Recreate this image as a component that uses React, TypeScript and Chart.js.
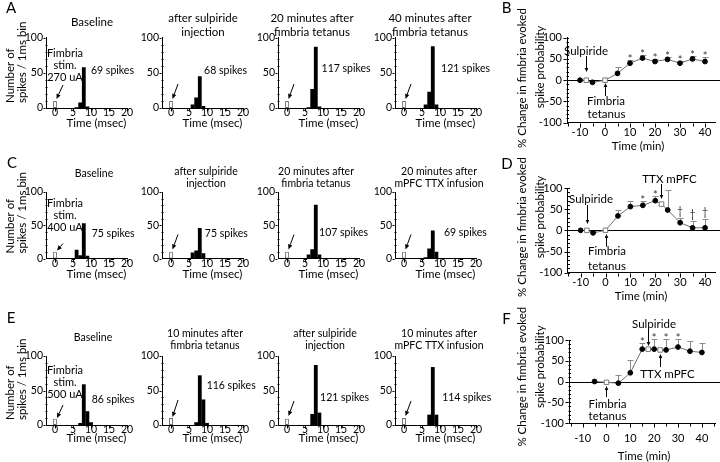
import React, { useEffect, useRef } from "react";
import { Chart, registerables } from "chart.js";

Chart.register(...registerables);

// ---------------- data: spike histograms ----------------
const histTimeTicks = [0, 5, 10, 15, 20];
const histCountTicks = [0, 50, 100];
const stimTime = 0;

const stimCountsA = [10, 10, 10, 10];
const stimCountsC = [10, 10, 10, 10];
const stimCountsE = [9, 10, 9, 10];

const spikeBinsA = [6, 7, 8, 9];
const countsA1 = [1, 8, 58, 2];
const countsA2 = [5, 15, 45, 3];
const countsA3 = [1, 27, 87, 2];
const countsA4 = [5, 23, 88, 5];

const spikeBinsC = [6, 7, 8, 9];
const countsC1 = [13, 5, 53, 4];
const countsC2 = [9, 12, 46, 8];
const countsC3 = [6, 14, 81, 6];
const countsC4 = [2, 15, 42, 10];

const spikeBinsE12 = [7, 8, 9, 10];
const countsE1 = [3, 59, 20, 4];
const countsE2 = [4, 72, 37, 3];
const spikeBinsE34 = [7, 8, 9];
const countsE3 = [16, 87, 18];
const countsE4 = [15, 84, 15];

const titlesA = [["Baseline"], ["after sulpiride", "injection"], ["20 minutes after", "fimbria tetanus"], ["40 minutes after", "fimbria tetanus"]];
const titlesC = [["Baseline"], ["after sulpiride", "injection"], ["20 minutes after", "fimbria tetanus"], ["20 minutes after", "mPFC TTX infusion"]];
const titlesE = [["Baseline"], ["10 minutes after", "fimbria tetanus"], ["after sulpiride", "injection"], ["10 minutes after", "mPFC TTX infusion"]];
const spikeLabelsA = ["69 spikes", "68 spikes", "117 spikes", "121 spikes"];
const spikeLabelsC = ["75 spikes", "75 spikes", "107 spikes", "69 spikes"];
const spikeLabelsE = ["86 spikes", "116 spikes", "121 spikes", "114 spikes"];
const stimTextA = ["Fimbria", "stim.", "270 uA"];
const stimTextC = ["Fimbria", "stim.", "400 uA"];
const stimTextE = ["Fimbria", "stim.", "500 uA"];

// ---------------- data: % change time courses ----------------
const minTicks = [-10, 0, 10, 20, 30, 40];
const pctTicks = [-100, -50, 0, 50, 100];

const timeB = [-10, -7.5, -5, 0, 5, 10, 15, 20, 25, 30, 35, 40];
const changeB = [0, 0, -5, 0, 16, 40, 52, 44, 49, 40, 50, 44];
const semB = [0, 0, 0, 0, 15, 8, 8, 6, 5, 6, 6, 10];
const openB = [false, true, false, true, false, false, false, false, false, false, false, false];
const sigB = ["", "", "", "", "", "*", "*", "*", "*", "*", "*", "*"];

const timeD = [-10, -7.5, -5, 0, 5, 10, 15, 20, 22.5, 25, 30, 35, 40];
const changeD = [0, 0, -6, 0, 34, 56, 59, 70, 62, 48, 18, 6, 6];
const semD = [0, 0, 4, 0, 13, 14, 10, 10, 0, 47, 12, 16, 20];
const openD = [false, true, false, true, false, false, false, false, true, false, false, false, false];
const sigD = ["", "", "", "", "", "", "*", "*", "", "", "\u2020", "\u2020", "\u2020"];

const timeF = [-5, 0, 5, 10, 15, 17.5, 20, 22.5, 25, 30, 35, 40];
const changeF = [0, -2, -4, 21, 78, 78, 78, 76, 76, 83, 73, 70];
const semF = [0, 0, 19, 31, 14, 0, 24, 0, 27, 20, 24, 22];
const openF = [false, true, false, false, false, true, false, true, false, false, false, false];
const sigF = ["", "", "", "", "*", "", "*", "", "*", "*", "", ""];

// ---------------- layout ----------------
const PAGE_W = 720;
const PAGE_H = 462;
const FONT = "Lato, 'Open Sans', 'DejaVu Sans', sans-serif";
const Y_AXIS_W = 30;
const X_AXIS_H = 24;
const histX0 = [55, 171, 287, 404];

type HistRow = { zeroY: number; topY: number; titleSize: number; title1: number[]; title2: number[]; titleXs: number[]; xTitleY: number };
const rowA: HistRow = { zeroY: 108, topY: 37.7, titleSize: 11.5, title1: [22.7], title2: [18.3, 32.3], titleXs: [92, 203, 312, 430], xTitleY: 123 };
const rowC: HistRow = { zeroY: 258.5, topY: 192, titleSize: 10.5, title1: [174], title2: [172, 184], titleXs: [94, 206, 316, 439], xTitleY: 274 };
const rowE: HistRow = { zeroY: 425, topY: 356, titleSize: 10.5, title1: [338], title2: [334, 346], titleXs: [93, 205, 325, 439], xTitleY: 438.5 };

type HistSpec = {
  row: HistRow; col: number; bins: number[]; counts: number[]; stim: number; title: string[];
  spikeText: string; spikePos: [number, number]; stimText?: string[]; arrow: number[]; letter?: [string, number, number];
};

const plainArrow = [7, 24, 1.5, 9];
const histSpecs: HistSpec[] = [
  { row: rowA, col: 0, bins: spikeBinsA, counts: countsA1, stim: stimCountsA[0], title: titlesA[0], spikeText: spikeLabelsA[0], spikePos: [10.0, 53], stimText: stimTextA, arrow: [8, 23, 1.5, 9], letter: ["A", 11, 8] },
  { row: rowA, col: 1, bins: spikeBinsA, counts: countsA2, stim: stimCountsA[1], title: titlesA[1], spikeText: spikeLabelsA[1], spikePos: [9.2, 53], arrow: plainArrow },
  { row: rowA, col: 2, bins: spikeBinsA, counts: countsA3, stim: stimCountsA[2], title: titlesA[2], spikeText: spikeLabelsA[2], spikePos: [9.6, 55.5], arrow: plainArrow },
  { row: rowA, col: 3, bins: spikeBinsA, counts: countsA4, stim: stimCountsA[3], title: titlesA[3], spikeText: spikeLabelsA[3], spikePos: [10.3, 55.5], arrow: plainArrow },
  { row: rowC, col: 0, bins: spikeBinsC, counts: countsC1, stim: stimCountsC[0], title: titlesC[0], spikeText: spikeLabelsC[0], spikePos: [10.2, 38], stimText: stimTextC, arrow: [8, 15, 2, 8], letter: ["C", 12, 163] },
  { row: rowC, col: 1, bins: spikeBinsC, counts: countsC2, stim: stimCountsC[1], title: titlesC[1], spikeText: spikeLabelsC[1], spikePos: [9.4, 38], arrow: plainArrow },
  { row: rowC, col: 2, bins: spikeBinsC, counts: countsC3, stim: stimCountsC[2], title: titlesC[2], spikeText: spikeLabelsC[2], spikePos: [8.9, 39], arrow: plainArrow },
  { row: rowC, col: 3, bins: spikeBinsC, counts: countsC4, stim: stimCountsC[3], title: titlesC[3], spikeText: spikeLabelsC[3], spikePos: [11.1, 39], arrow: plainArrow },
  { row: rowE, col: 0, bins: spikeBinsE12, counts: countsE1, stim: stimCountsE[0], title: titlesE[0], spikeText: spikeLabelsE[0], spikePos: [10.2, 37], stimText: stimTextE, arrow: [8, 20, 2, 7], letter: ["E", 11, 318] },
  { row: rowE, col: 1, bins: spikeBinsE12, counts: countsE2, stim: stimCountsE[1], title: titlesE[1], spikeText: spikeLabelsE[1], spikePos: [9.9, 56.5], arrow: [7, 25, 1.5, 8] },
  { row: rowE, col: 2, bins: spikeBinsE34, counts: countsE3, stim: stimCountsE[2], title: titlesE[2], spikeText: spikeLabelsE[2], spikePos: [9.2, 40], arrow: plainArrow },
  { row: rowE, col: 3, bins: spikeBinsE34, counts: countsE4, stim: stimCountsE[3], title: titlesE[3], spikeText: spikeLabelsE[3], spikePos: [10.6, 40], arrow: plainArrow },
];

type Txt = [string, number, number];
type Arw = { t: number; y1: number; y2: number };
type LineSpec = {
  times: number[]; vals: number[]; errs: number[]; open: boolean[]; sig: string[];
  left: number; right: number; top: number; bottom: number; xMin: number; xMax: number;
  tickPad: number; xTitle: [number, number]; yLab1: [number, number]; yLab2: [number, number];
  texts: Txt[]; arrows: Arw[]; letter: [string, number, number];
};

const lineSpecs: LineSpec[] = [
  {
    times: timeB, vals: changeB, errs: semB, open: openB, sig: sigB,
    left: 567, right: 715, top: 37.7, bottom: 122.7, xMin: -15.2, xMax: 44, tickPad: 4.5,
    xTitle: [638, 146.7], yLab1: [522, 78], yLab2: [540, 67],
    texts: [["Sulpiride", 586, 51.7], ["Fimbria", 606, 101.7], ["tetanus", 606.5, 114]],
    arrows: [{ t: -7.5, y1: 56, y2: 72 }, { t: 0, y1: 96, y2: 83 }],
    letter: ["B", 506.5, 8],
  },
  {
    times: timeD, vals: changeD, errs: semD, open: openD, sig: sigD,
    left: 567.5, right: 716, top: 188, bottom: 272.7, xMin: -15.27, xMax: 44, tickPad: 4.5,
    xTitle: [641, 296.7], yLab1: [522, 227], yLab2: [540, 217],
    texts: [["Sulpiride", 591, 199.3], ["Fimbria", 607, 251.7], ["tetanus", 607, 266], ["TTX mPFC", 669.5, 179.3]],
    arrows: [{ t: -7.5, y1: 205, y2: 224 }, { t: 0, y1: 246.7, y2: 234 }, { t: 22.5, y1: 184, y2: 199 }],
    letter: ["D", 507, 164],
  },
  {
    times: timeF, vals: changeF, errs: semF, open: openF, sig: sigF,
    left: 569, right: 719.6, top: 340, bottom: 423, xMin: -15.7, xMax: 45.5, tickPad: 9.5,
    xTitle: [644, 456], yLab1: [522, 376.7], yLab2: [540, 366.7],
    texts: [["Sulpiride", 654, 324], ["TTX mPFC", 667.5, 374], ["Fimbria", 607.5, 404], ["tetanus", 607.5, 416.7]],
    arrows: [{ t: 17.5, y1: 329, y2: 346 }, { t: 22.5, y1: 367, y2: 354 }, { t: 0, y1: 397, y2: 386 }],
    letter: ["F", 506.5, 319],
  },
];

// ---------------- drawing helpers ----------------
function txt(ctx: CanvasRenderingContext2D, s: string, x: number, y: number, size: number, align: CanvasTextAlign = "center", color = "#000", baseline: CanvasTextBaseline = "middle") {
  ctx.font = `${size}px ${FONT}`;
  ctx.fillStyle = color;
  ctx.textAlign = align;
  ctx.textBaseline = baseline;
  ctx.fillText(s, x, y);
}
function rotTxt(ctx: CanvasRenderingContext2D, s: string, x: number, y: number, size: number, align: CanvasTextAlign) {
  ctx.save();
  ctx.translate(x, y);
  ctx.rotate(-Math.PI / 2);
  txt(ctx, s, 0, 0, size, align);
  ctx.restore();
}
function seg(ctx: CanvasRenderingContext2D, x1: number, y1: number, x2: number, y2: number) {
  ctx.beginPath();
  ctx.moveTo(x1, y1);
  ctx.lineTo(x2, y2);
  ctx.stroke();
}
function arrow(ctx: CanvasRenderingContext2D, x1: number, y1: number, x2: number, y2: number, head: number, half: number) {
  const a = Math.atan2(y2 - y1, x2 - x1);
  const bx = x2 - head * Math.cos(a), by = y2 - head * Math.sin(a);
  seg(ctx, x1, y1, bx, by);
  ctx.beginPath();
  ctx.moveTo(x2, y2);
  ctx.lineTo(bx + half * Math.sin(a), by - half * Math.cos(a));
  ctx.lineTo(bx - half * Math.sin(a), by + half * Math.cos(a));
  ctx.closePath();
  ctx.fill();
}
const al = (v: number) => Math.round(v) + 0.5;

// ---------------- chart configs ----------------
function histConfig(h: HistSpec): any {
  const x0 = histX0[h.col];
  const left = x0 - 9;
  const right = x0 + 72;
  const xs = [stimTime, ...h.bins];
  const ys = [h.stim, ...h.counts];
  const decor = {
    id: "histDecor",
    afterDraw(chart: any) {
      const ctx: CanvasRenderingContext2D = chart.ctx;
      const sx = chart.scales.x, sy = chart.scales.y;
      const z = h.row.zeroY;
      ctx.save();
      ctx.strokeStyle = "#000";
      ctx.fillStyle = "#000";
      ctx.lineWidth = 1;
      const axX = al(sx.getPixelForValue(sx.min)) - 1;
      const bY = al(sy.getPixelForValue(0));
      for (const v of histTimeTicks) {
        const px = al(sx.getPixelForValue(v));
        seg(ctx, px, bY, px, bY + 3);
      }
      for (let v = 0; v <= 100; v += 10) {
        const py = al(sy.getPixelForValue(v));
        if (histCountTicks.includes(v)) seg(ctx, axX - 2, py, axX, py);
        else seg(ctx, axX, py, axX + 2, py);
      }
      const tx = h.row.titleXs[h.col];
      const tys = h.title.length === 1 ? h.row.title1 : h.row.title2;
      h.title.forEach((s, i) => txt(ctx, s, tx, tys[i], h.row.titleSize));
      txt(ctx, "Time (msec)", x0 + 41.5, h.row.xTitleY, 11.5);
      txt(ctx, h.spikeText, sx.getPixelForValue(h.spikePos[0]), sy.getPixelForValue(h.spikePos[1]), 10.5, "left");
      const [tdx, tdy, hdx, hdy] = h.arrow;
      arrow(ctx, x0 + tdx, z - tdy, x0 + hdx, z - hdy, 5, 2.2);
      if (h.stimText) {
        const offs = [55, 43, 30.7];
        h.stimText.forEach((s, i) => txt(ctx, s, x0 + 10, z - offs[i], 11));
        rotTxt(ctx, "Number of", 10, z - 5, 11.5, "left");
        rotTxt(ctx, "spikes / 1ms bin", 22, z - 5, 11.5, "left");
      }
      if (h.letter) txt(ctx, h.letter[0], h.letter[1], h.letter[2], 15);
      ctx.restore();
    },
  };
  return {
    type: "bar",
    data: {
      datasets: [
        {
          data: xs.map((x, i) => ({ x, y: ys[i] })),
          backgroundColor: xs.map((_, i) => (i === 0 ? "#ffffff" : "#000000")),
          borderColor: xs.map((_, i) => (i === 0 ? "#6a6a6a" : "#000000")),
          borderWidth: xs.map((_, i) => (i === 0 ? 1 : 0)),
          borderSkipped: false,
          barPercentage: 1.06,
          categoryPercentage: 1,
        },
      ],
    },
    options: {
      responsive: false,
      animation: false,
      events: [],
      layout: { padding: { left: left - Y_AXIS_W, right: PAGE_W - right, top: h.row.topY, bottom: PAGE_H - h.row.zeroY - X_AXIS_H } },
      plugins: { legend: { display: false }, tooltip: { enabled: false }, title: { display: false } },
      scales: {
        x: {
          type: "linear", min: -9 / 3.6, max: 20, offset: false,
          grid: { display: false, drawTicks: false },
          border: { display: true, color: "#000", width: 1 },
          ticks: { font: { family: FONT, size: 10.5, lineHeight: 1 }, color: "#000", padding: -0.5, autoSkip: false, maxRotation: 0 },
          afterBuildTicks: (s: any) => { s.ticks = histTimeTicks.map((v) => ({ value: v })); },
          afterFit: (s: any) => { s.height = X_AXIS_H; },
        },
        y: {
          type: "linear", min: 0, max: 100,
          grid: { display: false, drawTicks: false },
          border: { display: true, color: "#000", width: 1 },
          ticks: { font: { family: FONT, size: 10.5 }, color: "#000", padding: 3 },
          afterBuildTicks: (s: any) => { s.ticks = histCountTicks.map((v) => ({ value: v })); },
          afterFit: (s: any) => { s.width = Y_AXIS_W; },
        },
      },
    },
    plugins: [decor],
  };
}

function lineConfig(L: LineSpec): any {
  const decor = {
    id: "lineDecor",
    beforeDatasetsDraw(chart: any) {
      const ctx: CanvasRenderingContext2D = chart.ctx;
      const sx = chart.scales.x, sy = chart.scales.y;
      ctx.save();
      ctx.lineWidth = 1;
      ctx.strokeStyle = "#000";
      const y0 = al(sy.getPixelForValue(0));
      seg(ctx, chart.chartArea.left, y0, PAGE_W, y0);
      ctx.strokeStyle = "#8c8c8c";
      L.times.forEach((t, i) => {
        const e = L.errs[i];
        if (!e) return;
        const px = al(sx.getPixelForValue(t));
        const pv = sy.getPixelForValue(L.vals[i]);
        const pe = al(sy.getPixelForValue(L.vals[i] + e));
        seg(ctx, px, pv, px, pe);
        seg(ctx, px - 3, pe, px + 3, pe);
      });
      ctx.restore();
    },
    afterDraw(chart: any) {
      const ctx: CanvasRenderingContext2D = chart.ctx;
      const sx = chart.scales.x, sy = chart.scales.y;
      ctx.save();
      ctx.strokeStyle = "#000";
      ctx.fillStyle = "#000";
      ctx.lineWidth = 1;
      const axX = al(chart.chartArea.left) - 1;
      const bY = al(chart.chartArea.bottom);
      for (let v = Math.ceil(L.xMin / 5) * 5; v <= L.xMax; v += 5) {
        const px = al(sx.getPixelForValue(v));
        seg(ctx, px, bY, px, bY + (minTicks.includes(v) ? 4 : 3));
      }
      for (let v = -100; v <= 100; v += 10) {
        const py = al(sy.getPixelForValue(v));
        if (pctTicks.includes(v)) seg(ctx, axX - 3, py, axX, py);
        seg(ctx, axX, py, axX + 2.5, py);
      }
      // significance marks
      L.times.forEach((t, i) => {
        const m = L.sig[i];
        if (!m) return;
        const px = sx.getPixelForValue(t);
        const cap = sy.getPixelForValue(L.vals[i] + L.errs[i]);
        if (m === "*") txt(ctx, m, px, cap + 3, 11, "center", "#333", "alphabetic");
        else txt(ctx, m, px, cap - 3, 10.5, "center", "#333", "alphabetic");
      });
      L.texts.forEach(([s, x, y]) => txt(ctx, s, x, y, 11.5));
      L.arrows.forEach((a) => {
        const px = al(sx.getPixelForValue(a.t));
        arrow(ctx, px, a.y1, px, a.y2, 4, 1.8);
      });
      txt(ctx, "Time (min)", L.xTitle[0], L.xTitle[1], 11.5);
      rotTxt(ctx, "% Change in fimbria evoked", L.yLab1[0], L.yLab1[1], 11.5, "center");
      rotTxt(ctx, "spike probability", L.yLab2[0], L.yLab2[1], 11.5, "center");
      txt(ctx, L.letter[0], L.letter[1], L.letter[2], 15);
      ctx.restore();
    },
  };
  return {
    type: "line",
    data: {
      datasets: [
        {
          data: L.times.map((t, i) => ({ x: t, y: L.vals[i] })),
          borderColor: "#707070",
          borderWidth: 1,
          tension: 0,
          pointStyle: L.open.map((o) => (o ? "rect" : "circle")),
          pointRadius: L.open.map((o) => (o ? 3.2 : 2.4)),
          pointBackgroundColor: L.open.map((o) => (o ? "#ffffff" : "#000000")),
          pointBorderColor: L.open.map((o) => (o ? "#7a7a7a" : "#000000")),
          pointBorderWidth: 1,
        },
      ],
    },
    options: {
      responsive: false,
      animation: false,
      events: [],
      layout: { padding: { left: L.left - Y_AXIS_W, right: PAGE_W - L.right, top: L.top, bottom: PAGE_H - L.bottom - X_AXIS_H } },
      plugins: { legend: { display: false }, tooltip: { enabled: false }, title: { display: false } },
      scales: {
        x: {
          type: "linear", min: L.xMin, max: L.xMax,
          grid: { display: false, drawTicks: false },
          border: { display: true, color: "#000", width: 1 },
          ticks: { font: { family: FONT, size: 11, lineHeight: 1 }, color: "#000", padding: L.tickPad, autoSkip: false, maxRotation: 0 },
          afterBuildTicks: (s: any) => { s.ticks = minTicks.map((v) => ({ value: v })); },
          afterFit: (s: any) => { s.height = X_AXIS_H; },
        },
        y: {
          type: "linear", min: -100, max: 100,
          grid: { display: false, drawTicks: false },
          border: { display: true, color: "#000", width: 1 },
          ticks: { font: { family: FONT, size: 11 }, color: "#000", padding: 5, callback: (v: any) => String(v) },
          afterBuildTicks: (s: any) => { s.ticks = pctTicks.map((v) => ({ value: v })); },
          afterFit: (s: any) => { s.width = Y_AXIS_W; },
        },
      },
    },
    plugins: [decor],
  };
}

function ChartCanvas({ make }: { make: () => any }) {
  const ref = useRef<HTMLCanvasElement>(null);
  useEffect(() => {
    const chart = new Chart(ref.current as HTMLCanvasElement, make());
    return () => chart.destroy();
  }, []);
  return (
    <canvas
      ref={ref}
      width={PAGE_W}
      height={PAGE_H}
      style={{ position: "absolute", left: 0, top: 0, width: PAGE_W, height: PAGE_H }}
    />
  );
}

export default function App() {
  return (
    <div style={{ position: "fixed", left: 0, top: 0, width: PAGE_W, height: PAGE_H, background: "#ffffff", overflow: "hidden" }}>
      {histSpecs.map((h, i) => (
        <ChartCanvas key={"h" + i} make={() => histConfig(h)} />
      ))}
      {lineSpecs.map((L, i) => (
        <ChartCanvas key={"l" + i} make={() => lineConfig(L)} />
      ))}
    </div>
  );
}
